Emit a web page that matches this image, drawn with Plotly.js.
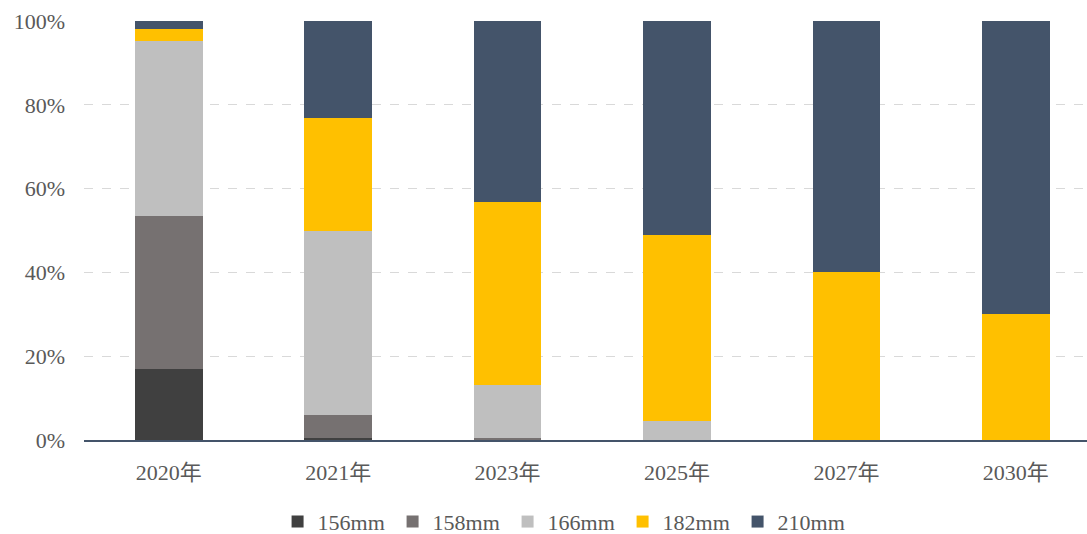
<!DOCTYPE html>
<html><head><meta charset="utf-8">
<script src="https://cdn.plot.ly/plotly-3.0.1.min.js"></script>
<style>html,body{margin:0;padding:0;background:#fff}</style>
</head><body>
<div id="chart" style="width:1087px;height:534px"></div>
<script>
const categories = ["2020年","2021年","2023年","2025年","2027年","2030年"];
const s156 = [17.0, 0.5, 0, 0, 0, 0];
const s158 = [36.5, 5.5, 0.5, 0, 0, 0];
const s166 = [41.7, 44.0, 12.6, 4.5, 0, 0];
const s182 = [2.9, 26.8, 43.7, 44.4, 40, 30];
const s210 = [1.9, 23.2, 43.2, 51.1, 60, 70];
const seriesNames = ["156mm","158mm","166mm","182mm","210mm"];
const seriesColors = ["#404040","#767171","#bfbfbf","#ffc000","#44546a"];
const seriesData = [s156, s158, s166, s182, s210];

const traces = seriesData.map((vals, i) => ({
  type: "bar",
  name: seriesNames[i],
  x: categories,
  y: vals,
  width: 0.4,
  marker: {color: seriesColors[i], line: {width: 0}},
  hoverinfo: "x+y+name"
}));

const fam = "Liberation Serif, 'Times New Roman', 'Noto Sans CJK SC', serif";
const tickFont = {family: fam, size: 22, color: "#595959"};
const legFont = {family: fam, size: 22, color: "#595959"};
const layout = {
  width: 1087, height: 534,
  margin: {l: 84, r: 0, t: 21, b: 94, autoexpand: false},
  barmode: "stack",
  paper_bgcolor: "#fff", plot_bgcolor: "#fff",
  font: tickFont,
  showlegend: true,
  legend: {orientation: "h", x: 0.193, xanchor: "left", y: -0.145, yanchor: "top",
           font: legFont, traceorder: "normal", itemwidth: 30, tracegroupgap: 0,
           entrywidth: 70, entrywidthmode: "pixels"},
  xaxis: {type: "category", range: [-0.5, 5.42], showgrid: false, zeroline: false,
          showline: true, linecolor: "#44546a", linewidth: 2,
          ticks: "", ticklabelstandoff: 12, tickfont: tickFont},
  yaxis: {range: [0, 100], tickvals: [0,20,40,60,80,100], ticktext: ["0%","20%","40%","60%","80%","100%"],
          showgrid: true, gridcolor: "#d9d9d9", griddash: "dash", gridwidth: 1.3,
          zeroline: false, showline: false, ticks: "", ticklabelstandoff: 18, tickfont: tickFont}
};
Plotly.newPlot("chart", traces, layout, {displayModeBar: false, staticPlot: true});
</script>
</body></html>
